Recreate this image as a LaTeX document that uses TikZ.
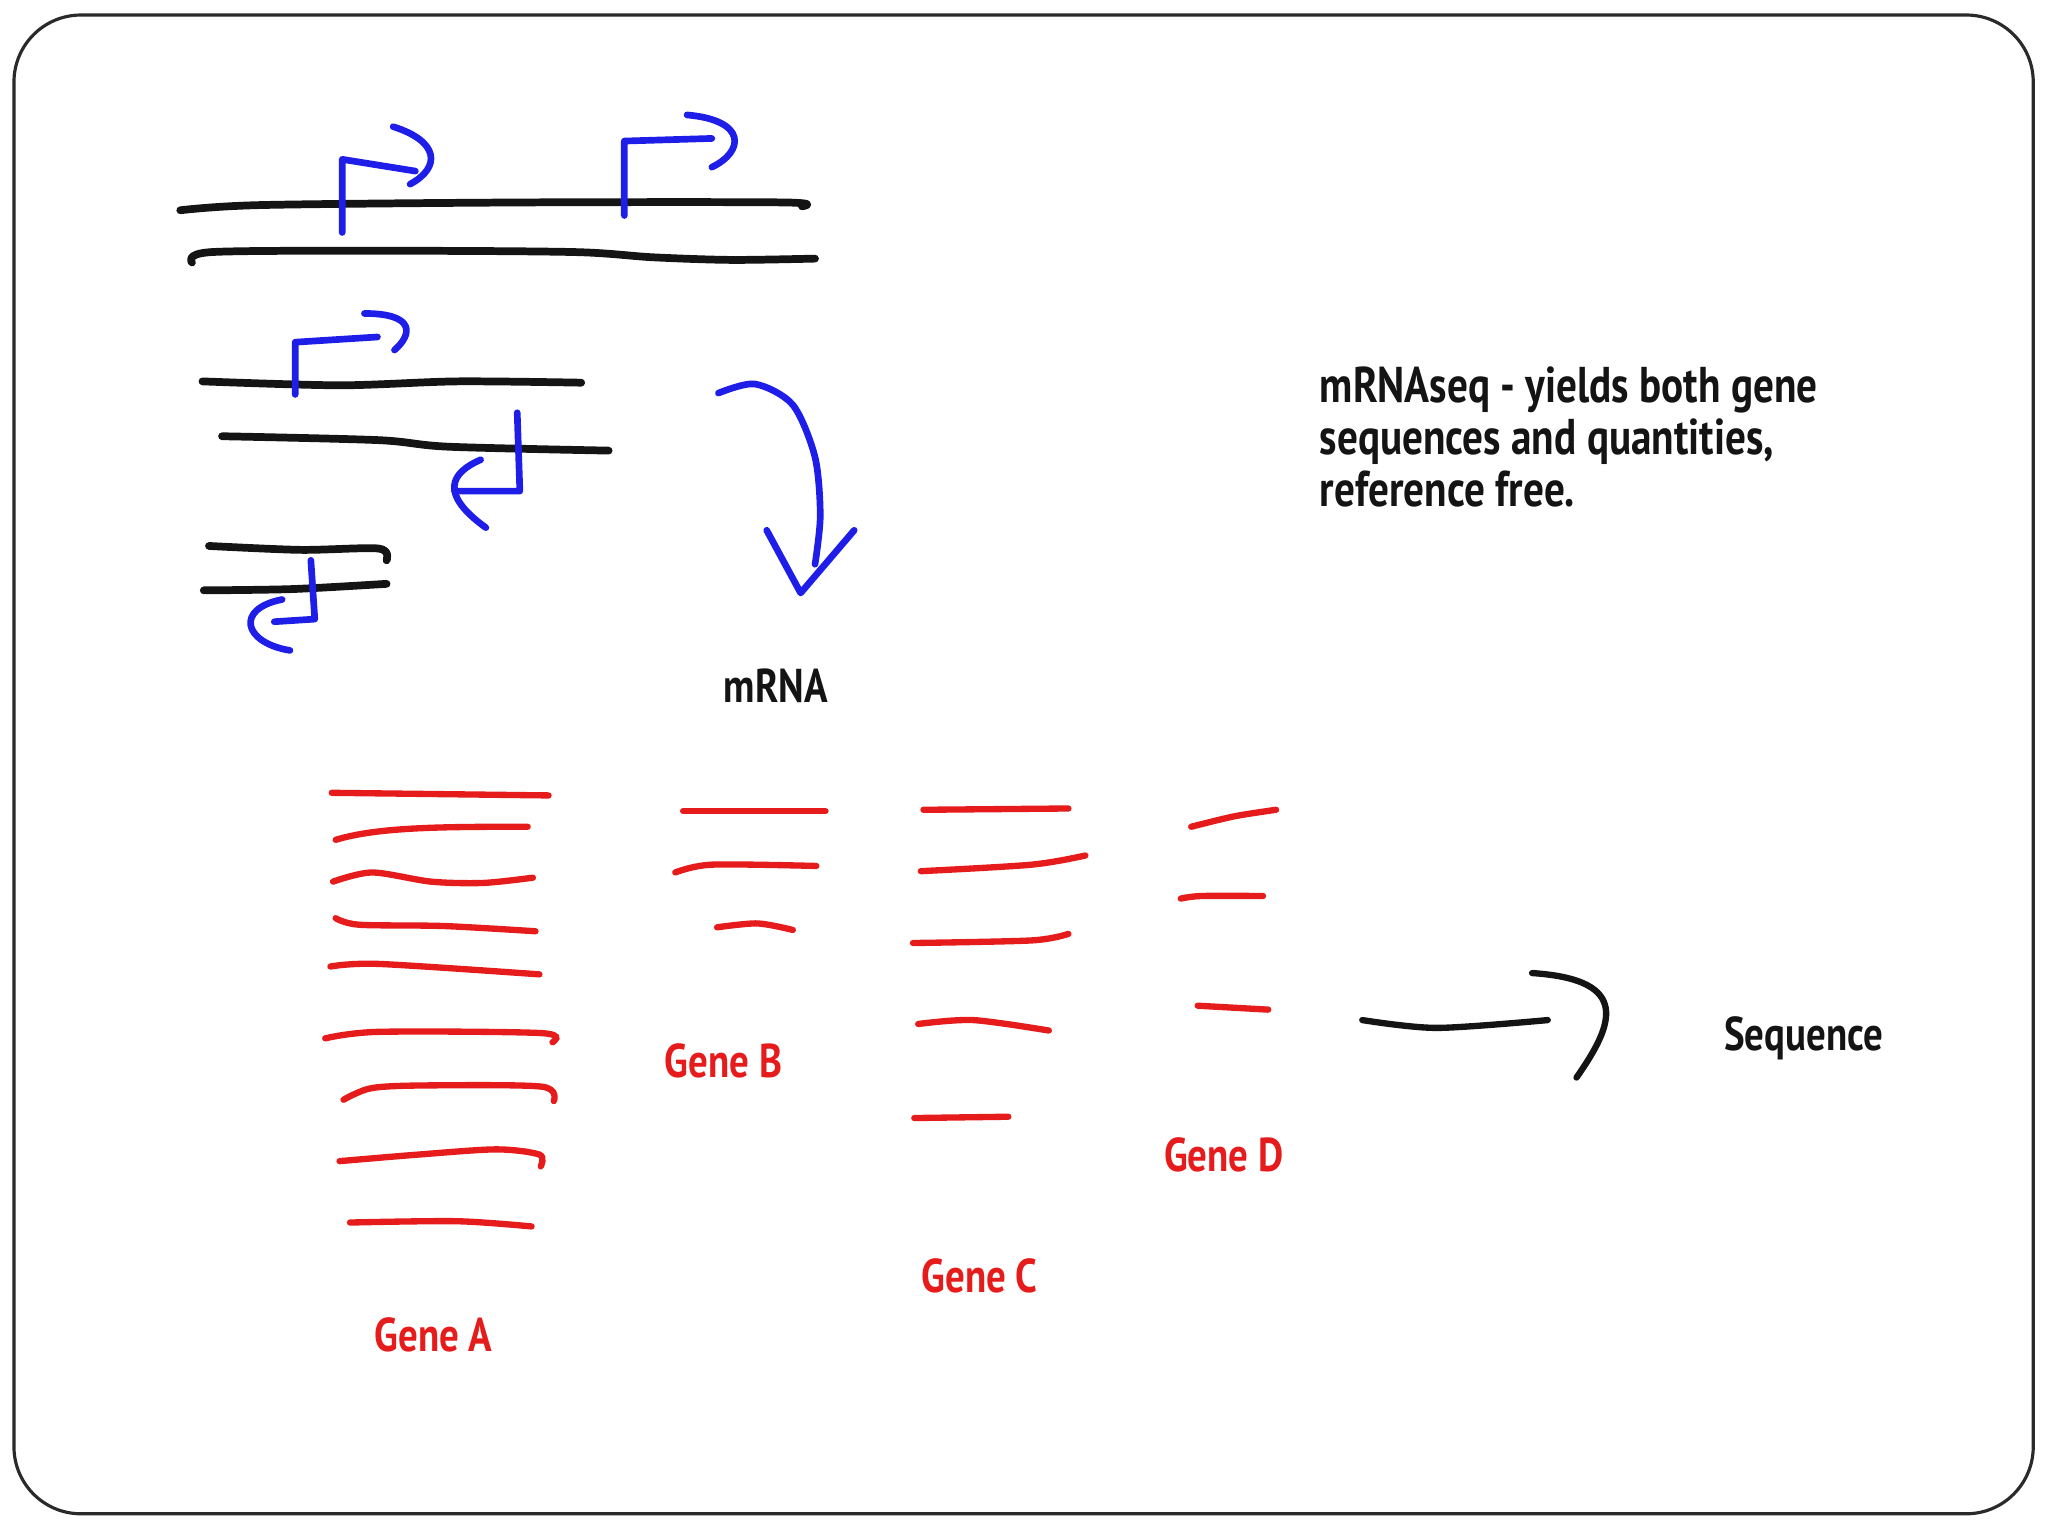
\documentclass[tikz,border=0pt]{standalone}
\usepackage{fontspec}
\setmainfont{PT Sans}[FakeStretch=0.82]
\usepackage{xcolor}
\definecolor{skInk}{HTML}{141414}
\definecolor{skBlue}{HTML}{1E1EE8}
\definecolor{skRed}{HTML}{E61C1C}
\definecolor{skFrame}{HTML}{2A2A2A}

\begin{document}
\begin{tikzpicture}[x=0.013061cm,y=-0.013061cm,
  dna/.style={draw=skInk,line width=2.2pt,line cap=round,line join=round},
  prom/.style={draw=skBlue,line width=1.9pt,line cap=round,line join=round},
  rd/.style={draw=skRed,line width=1.8pt,line cap=round},
  lbl/.style={font=\bfseries\fontsize{13.5}{14.8}\selectfont,inner sep=0pt,text=skInk},
  glbl/.style={lbl,text=skRed}
]
\useasboundingbox (0,0) rectangle (1568,1176);
\draw[skFrame,line width=0.9pt,rounded corners=6.7mm] (10.7,11.5) rectangle (1556.7,1159);

% genome, two loci
\draw[dna] plot[smooth] coordinates {(138,161) (200,157) (400,155) (600,155) (614,158)};
\draw[dna] plot[smooth] coordinates {(147,201) (162,193) (300,192) (440,193) (500,197) (560,199) (624,198)};
\draw[prom] (262,178) -- (262,122) -- (318,131);
\draw[prom] (301,97) .. controls (336,108) and (338,128) .. (314,141);
\draw[prom] (478,165) -- (478,108) -- (545,106);
\draw[prom] (526,88) .. controls (572,92) and (570,116) .. (545,128);

\draw[dna] plot[smooth] coordinates {(155,292) (260,295) (350,292) (445,293)};
\draw[dna] plot[smooth] coordinates {(170,334) (290,337) (343,342) (466,345)};
\draw[prom] (226,302) -- (226,262) -- (289,258);
\draw[prom] (279,240) .. controls (318,240) and (316,256) .. (302,268);
\draw[prom] (396,316) -- (398,376) -- (348,376);
\draw[prom] (368,352) .. controls (345,362) and (336,378) .. (372,404);

\draw[dna] plot[smooth] coordinates {(160,418) (230,421) (290,420) (296,429)};
\draw[dna] plot[smooth] coordinates {(156,452) (224,451) (296,447)};
\draw[prom] (238,429) -- (241,474) -- (210,476);
\draw[prom] (216,459) .. controls (180,466) and (186,492) .. (222,498);

% transcription arrow
\draw[prom] plot[smooth] coordinates {(550,301) (578,294) (607,310) (624,350) (628,395) (624,432)};
\draw[prom] (587,406) -- (613,454) -- (654,406);
\node[lbl] (txtmrna) at (594,525) {mRNA};

% reads
\draw[rd] (254,607) -- (420,609);
\draw[rd] (257,643) .. controls (290,633) and (340,633) .. (404,633);
\draw[rd] plot[smooth] coordinates {(255,675) (285,668) (330,675) (370,676) (408,672)};
\draw[rd] plot[smooth] coordinates {(257,703) (275,708) (340,709) (410,713)};
\draw[rd] plot[smooth] coordinates {(253,740) (290,738) (413,746)};
\draw[rd] plot[smooth] coordinates {(249,795) (290,790) (415,791) (423,798)};
\draw[rd] plot[smooth] coordinates {(263,842) (285,833) (330,831) (415,832) (424,843)};
\draw[rd] plot[smooth] coordinates {(260,889) (320,884) (380,880) (413,884) (414,893)};
\draw[rd] plot[smooth] coordinates {(268,936) (350,935) (407,939)};

\draw[rd] (523,621) -- (632,621);
\draw[rd] plot[smooth] coordinates {(517,668) (545,662) (625,663)};
\draw[rd] plot[smooth] coordinates {(549,710) (580,707) (607,712)};

\draw[rd] (707,620) -- (818,619);
\draw[rd] plot[smooth] coordinates {(705,667) (790,662) (831,655)};
\draw[rd] plot[smooth] coordinates {(699,722) (790,720) (818,715)};
\draw[rd] plot[smooth] coordinates {(703,784) (745,781) (803,789)};
\draw[rd] (700,856) -- (772,855);

\draw[rd] plot[smooth] coordinates {(912,633) (945,625) (977,620)};
\draw[rd] plot[smooth] coordinates {(904,688) (920,686) (967,686)};
\draw[rd] (917,770) -- (971,773);

\node[glbl] (geneA) at (332,1022) {Gene A};
\node[glbl] (geneB) at (554,812) {Gene B};
\node[glbl] (geneC) at (750,977) {Gene C};
\node[glbl] (geneD) at (937,884) {Gene D};

% sequencing
\draw[dna,line width=1.8pt] plot[smooth] coordinates {(1043,781) (1100,787) (1185,781)};
\draw[dna,line width=1.8pt] (1173,745) .. controls (1250,750) and (1235,785) .. (1207,825);
\node[lbl] (txtseq) at (1381,795) {Sequence};

\node[lbl,font=\bfseries\fontsize{14.3}{14.8}\selectfont,anchor=north west,align=left] (txtnote) at (1010,280)
  {mRNAseq - yields both gene\\sequences and quantities,\\reference free.};
\end{tikzpicture}
\end{document}
